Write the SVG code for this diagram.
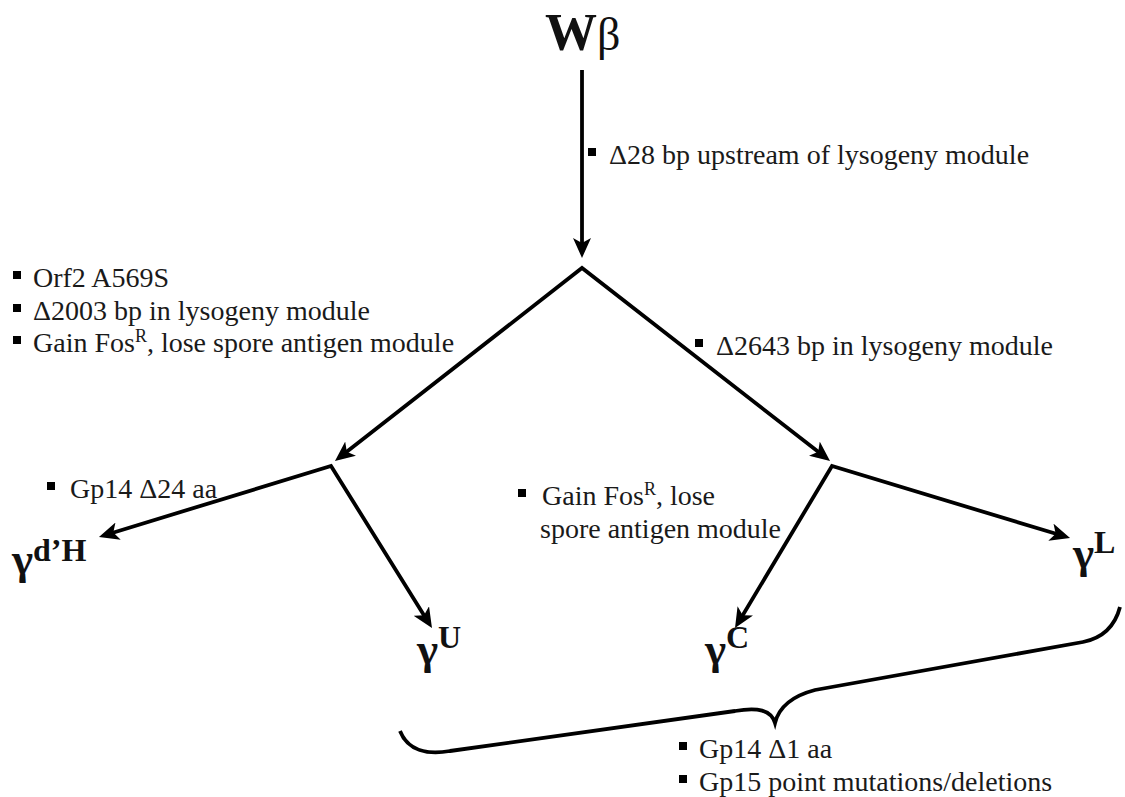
<svg xmlns="http://www.w3.org/2000/svg" width="1125" height="797" viewBox="0 0 1125 797">
<style>
text{font-family:'Liberation Serif','DejaVu Serif','Noto Serif',serif}
.t{font-size:28px;fill:#1a1a1a}
.g{font-weight:bold;fill:#111}
.e{fill:none;stroke:#000;stroke-width:3.8;stroke-linejoin:miter;stroke-miterlimit:10}
.b{fill:#000}
</style>
<defs>
<marker id="ah" viewBox="0 0 20 18" refX="14" refY="9" markerWidth="20" markerHeight="18" markerUnits="userSpaceOnUse" orient="auto-start-reverse">
<path d="M0,0 L20,9 L0,18 L5,9 z" fill="#000"/>
</marker>
</defs>
<rect width="1125" height="797" fill="#fff"/>

<g id="connectors">
<path class="e" d="M582,70 L582,252" marker-end="url(#ah)"/>
<path class="e" d="M339.7,457.3 L582,268 L825.3,457.3" marker-start="url(#ah)" marker-end="url(#ah)"/>
<path class="e" d="M104.7,535.2 L331,466 L428.8,622.9" marker-start="url(#ah)" marker-end="url(#ah)"/>
<path class="e" d="M738.1,622.9 L832,466 L1064.3,536.3" marker-start="url(#ah)" marker-end="url(#ah)"/>
<path class="e" stroke-width="3" d="M400,731 C408,751 428,755 450,751 L735,711 C758,707 771,710 775,723 C779,707 792,696 815,690 L1083,642 C1103,638 1115,626 1120,607"/>
</g>

<g id="node-wb">
<text class="g" x="545" y="50" font-size="52">W<tspan font-weight="normal" font-size="46">β</tspan></text>
</g>

<g id="node-gdH">
<text class="g" x="12" y="574" font-size="45">γ<tspan font-size="32" dy="-13">d’H</tspan></text>
</g>
<g id="node-gU">
<text class="g" x="417" y="664" font-size="45">γ<tspan font-size="32" dy="-16">U</tspan></text>
</g>
<g id="node-gC">
<text class="g" x="705" y="664" font-size="45">γ<tspan font-size="32" dy="-16">C</tspan></text>
</g>
<g id="node-gL">
<text class="g" x="1073" y="568" font-size="45">γ<tspan font-size="32" dy="-15">L</tspan></text>
</g>

<g id="label-d28">
<rect class="b" x="588" y="148" width="8" height="8"/>
<text class="t" x="609" y="164">Δ28 bp upstream of lysogeny module</text>
</g>
<g id="label-left">
<rect class="b" x="13" y="271" width="8" height="8"/>
<text class="t" x="33" y="287">Orf2 A569S</text>
<rect class="b" x="13" y="304" width="8" height="8"/>
<text class="t" x="33" y="320">Δ2003 bp in lysogeny module</text>
<rect class="b" x="13" y="336" width="8" height="8"/>
<text class="t" x="33" y="352">Gain Fos<tspan font-size="18" dy="-10">R</tspan><tspan dy="10">, lose spore antigen module</tspan></text>
</g>
<g id="label-d2643">
<rect class="b" x="695" y="339" width="8" height="8"/>
<text class="t" x="716" y="355">Δ2643 bp in lysogeny module</text>
</g>
<g id="label-gp14-24">
<rect class="b" x="47" y="482" width="8" height="8"/>
<text class="t" x="70" y="498">Gp14 Δ24 aa</text>
</g>
<g id="label-fos-mid">
<rect class="b" x="518" y="489" width="8" height="8"/>
<text class="t" x="542" y="505">Gain Fos<tspan font-size="18" dy="-10">R</tspan><tspan dy="10">, lose</tspan></text>
<text class="t" x="540" y="538">spore antigen module</text>
</g>
<g id="label-bottom">
<rect class="b" x="679" y="742" width="8" height="8"/>
<text class="t" x="699" y="758">Gp14 Δ1 aa</text>
<rect class="b" x="679" y="775" width="8" height="8"/>
<text class="t" x="699" y="791">Gp15 point mutations/deletions</text>
</g>
</svg>
